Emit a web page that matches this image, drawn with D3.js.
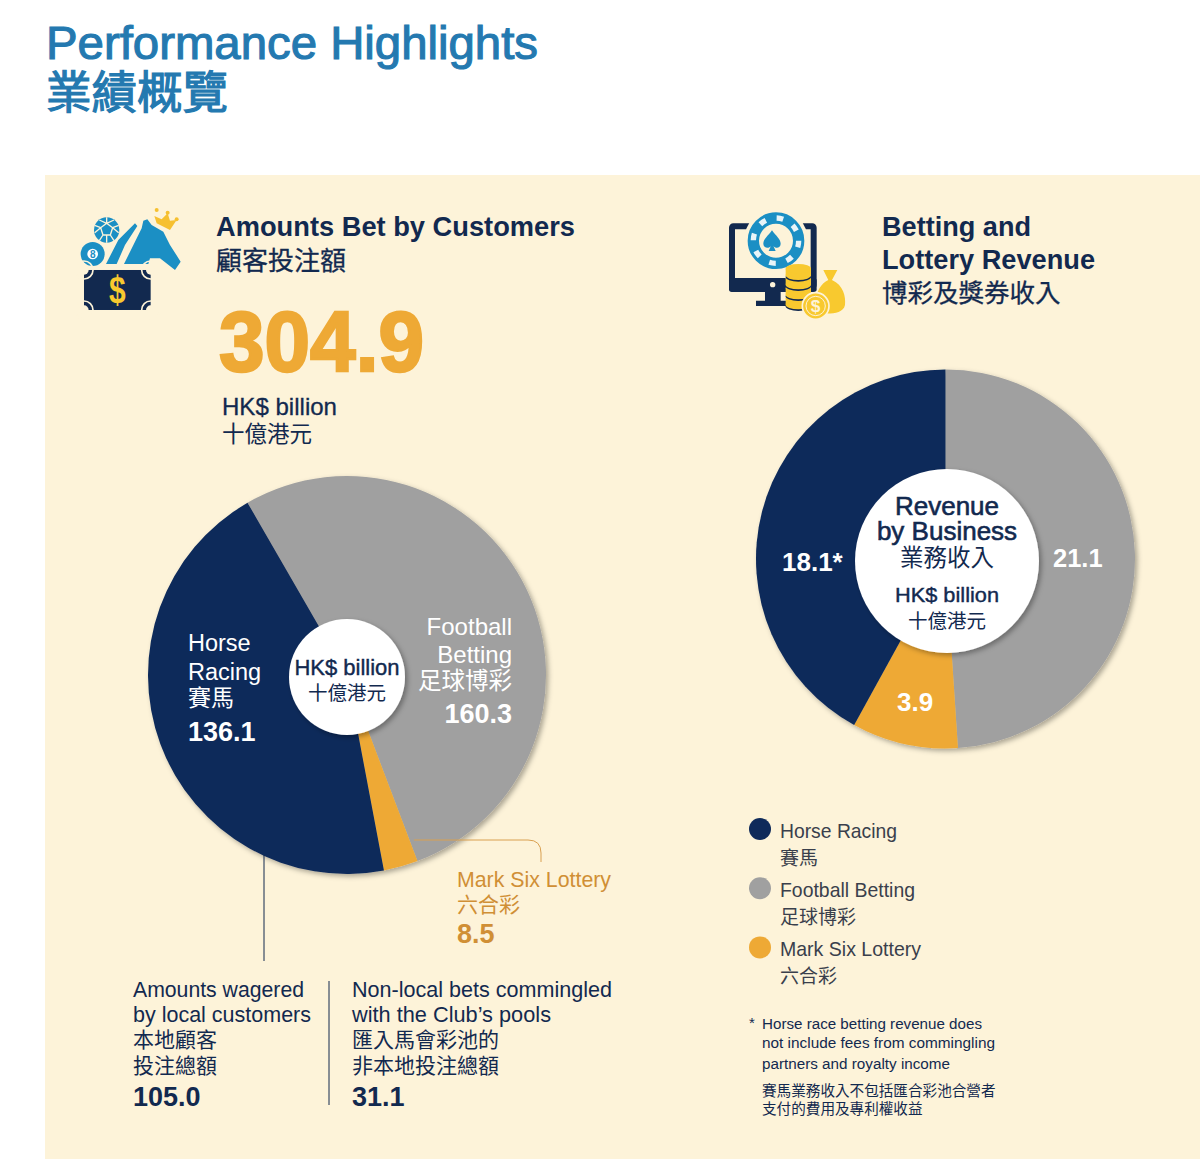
<!DOCTYPE html>
<html>
<head>
<meta charset="utf-8">
<script src="https://cdn.jsdelivr.net/npm/d3@7"></script>
<style>
html, body { margin: 0; padding: 0; background: #fff; }
svg { display: block; }
text { font-family: "Liberation Sans", "Noto Sans CJK TC", sans-serif; }
.zh { font-family: "Noto Sans CJK TC", sans-serif; }
</style>
</head>
<body>
<svg id="chart" width="1200" height="1159"></svg>
<script>
// chart values
var categories = ["Horse Racing", "Football Betting", "Mark Six Lottery"];
var categoriesZh = ["賽馬", "足球博彩", "六合彩"];
var betValues = [136.1, 160.3, 8.5];
var revenueValues = [18.1, 21.1, 3.9];
var betTotal = 304.9;
var localBets = 105.0;
var nonLocalBets = 31.1;
var sliceOrder = [1, 2, 0];
var sliceColors = ["#0f2a5a", "#a0a0a0", "#eea935"];

var navy = "#12294f", orange = "#eea935", labelOrange = "#d08f35", blue = "#1b8fc4", yellow = "#f8c92f", cream = "#fdf3d9";

var svg = d3.select("#chart");
var color = d3.scaleOrdinal(d3.range(categories.length), sliceColors);

var defs = svg.append("defs");
var shadow = defs.append("filter").attr("id", "shadow")
  .attr("x", "-10%").attr("y", "-10%").attr("width", "125%").attr("height", "125%");
shadow.append("feDropShadow").attr("dx", 2.5).attr("dy", 2.5).attr("stdDeviation", 2.5)
  .attr("flood-color", "#000").attr("flood-opacity", 0.32);

svg.append("rect").attr("x", 45).attr("y", 175).attr("width", 1155).attr("height", 984).attr("fill", cream);

function label(x, y, str, size, fill, opts) {
  opts = opts || {};
  var zh = /[\u4e00-\u9fff]/.test(str);
  var t = svg.append("text").attr("x", x).attr("y", y).text(str)
    .attr("font-size", size).attr("fill", fill)
    .attr("text-anchor", opts.anchor || "start")
    .attr("font-weight", opts.bold ? 700 : 400);
  if (zh) t.attr("class", "zh");
  if (opts.width) t.attr("textLength", opts.width).attr("lengthAdjust", "spacingAndGlyphs");
  if (opts.stroke) t.attr("stroke", fill).attr("stroke-width", opts.stroke);
  return t;
}

function drawPie(cx, cy, r, values, start) {
  var pie = d3.pie().sort(null).value(function(i) { return values[i]; })
    .startAngle(start).endAngle(start + 2 * Math.PI);
  var arc = d3.arc().innerRadius(0).outerRadius(r);
  svg.append("g").attr("transform", "translate(" + cx + "," + cy + ")")
    .attr("filter", "url(#shadow)")
    .selectAll("path").data(pie(sliceOrder)).enter().append("path")
    .attr("d", arc)
    .attr("fill", function(d) { return color(d.data); });
}

function hole(cx, cy, r) {
  svg.append("circle").attr("cx", cx).attr("cy", cy).attr("r", r).attr("fill", "#fff").attr("filter", "url(#shadow)");
}

drawPie(347, 675, 199, betValues, -30 * Math.PI / 180);
hole(347, 677, 58);
drawPie(945.5, 559, 189.5, revenueValues, 0);
hole(947, 561, 92);

// heading
label(46, 59, "Performance Highlights", 46, "#2479b0", { stroke: 1.1, width: 492 });
label(46, 109, "業績概覽", 45.5, "#2479b0", { stroke: 1.2 });

// left column
label(216, 236, "Amounts Bet by Customers", 27, navy, { bold: true, width: 359 });
label(216, 270, "顧客投注額", 26, navy, { stroke: 0.3 });
label(219, 371, betTotal.toFixed(1), 86, orange, { bold: true, width: 205, stroke: 2.5 });
label(222, 415, "HK$ billion", 24, navy, { stroke: 0.3, width: 115 });
label(222, 442, "十億港元", 22.5, navy);

label(188, 651, "Horse", 23.5, "#fff");
label(188, 680, "Racing", 23.5, "#fff");
label(188, 706, categoriesZh[0], 23, "#fff");
label(188, 741, betValues[0].toFixed(1), 27, "#fff", { bold: true });

label(512, 635, "Football", 24, "#fff", { anchor: "end" });
label(512, 663, "Betting", 24, "#fff", { anchor: "end" });
label(512, 689, categoriesZh[1], 23.5, "#fff", { anchor: "end" });
label(512, 723, betValues[1].toFixed(1), 27, "#fff", { anchor: "end", bold: true });

label(347, 675, "HK$ billion", 22, navy, { anchor: "middle", stroke: 0.4 });
label(347, 700, "十億港元", 19.5, navy, { anchor: "middle" });

svg.append("path").attr("d", "M414,840H528Q541,840 541,853V862").attr("fill", "none").attr("stroke", "#d9a050").attr("stroke-width", 1);
label(457, 887, categories[2], 22, labelOrange, { width: 154 });
label(457, 912, categoriesZh[2], 21, labelOrange);
label(457, 943, betValues[2].toFixed(1), 27, labelOrange, { bold: true });

svg.append("line").attr("x1", 264).attr("x2", 264).attr("y1", 855).attr("y2", 961).attr("stroke", navy);
svg.append("line").attr("x1", 329).attr("x2", 329).attr("y1", 981).attr("y2", 1105).attr("stroke", navy);

label(133, 997, "Amounts wagered", 22.5, navy, { width: 171 });
label(133, 1022, "by local customers", 22.5, navy, { width: 178 });
label(133, 1047, "本地顧客", 21, navy);
label(133, 1073, "投注總額", 21, navy);
label(133, 1106, localBets.toFixed(1), 27, navy, { bold: true });

label(352, 997, "Non-local bets commingled", 22.5, navy, { width: 260 });
label(352, 1022, "with the Club’s pools", 22.5, navy, { width: 199 });
label(352, 1047, "匯入馬會彩池的", 21, navy);
label(352, 1073, "非本地投注總額", 21, navy);
label(352, 1106, nonLocalBets.toFixed(1), 27, navy, { bold: true });

// right column
label(882, 236, "Betting and", 27, navy, { bold: true, width: 149 });
label(882, 269, "Lottery Revenue", 27, navy, { bold: true, width: 213 });
label(882, 302, "博彩及獎券收入", 25.5, navy, { stroke: 0.3 });

label(947, 515, "Revenue", 26, navy, { anchor: "middle", stroke: 0.6 });
label(947, 540, "by Business", 26, navy, { anchor: "middle", stroke: 0.6 });
label(947, 566, "業務收入", 23.5, navy, { anchor: "middle" });
label(947, 602, "HK$ billion", 21, navy, { anchor: "middle", stroke: 0.4, width: 104 });
label(947, 628, "十億港元", 19.5, navy, { anchor: "middle" });

label(782, 571, revenueValues[0].toFixed(1) + "*", 26, "#fff", { bold: true });
label(1053, 567, revenueValues[1].toFixed(1), 25.5, "#fff", { bold: true });
label(897, 711, revenueValues[2].toFixed(1), 26, "#fff", { bold: true });

// legend
var legendWidths = [117, 135, 141];
categories.forEach(function(c, i) {
  var y = 829 + i * 59.2;
  svg.append("circle").attr("cx", 760).attr("cy", y).attr("r", 11).attr("fill", color(i));
  label(780, y + 9, c, 21, "#3a3f4c", { width: legendWidths[i] });
  label(780, y + 36, categoriesZh[i], 19, "#3a3f4c");
});

// footnote
label(749, 1028, "*", 15, navy);
label(762, 1029, "Horse race betting revenue does", 15.2, navy, { width: 220 });
label(762, 1048, "not include fees from commingling", 15.2, navy, { width: 233 });
label(762, 1069, "partners and royalty income", 15.2, navy, { width: 188 });
label(762, 1096, "賽馬業務收入不包括匯合彩池合營者", 14.6, navy);
label(762, 1114, "支付的費用及專利權收益", 14.6, navy);

// left icon, drawn in zoomed coordinates
var ic1 = svg.append("g").attr("transform", "translate(60,190) scale(0.3333)");
ic1.append("circle").attr("cx", 140).attr("cy", 120).attr("r", 38).attr("fill", blue);
ic1.append("path").attr("d", "M140,82V100M140,100L122,113L129,135H151L158,113ZM122,113L104,106M158,113L176,106M129,135L118,152M151,135L162,152M118,90L140,100M162,90L140,100M104,128L122,113M176,128L158,113M140,158V135")
  .attr("fill", "none").attr("stroke", cream).attr("stroke-width", 4);
ic1.append("circle").attr("cx", 98).attr("cy", 192).attr("r", 36).attr("fill", blue);
ic1.append("circle").attr("cx", 98).attr("cy", 192).attr("r", 16).attr("fill", "#fff");
ic1.append("text").attr("x", 98).attr("y", 203).attr("text-anchor", "middle").attr("font-size", 30).attr("font-weight", 700).attr("fill", blue).text("8");
ic1.append("path").attr("fill", blue).attr("d", "M192,222L245,115L250,92L262,88L275,105L310,125L330,165L362,215L345,240L300,205L270,205L265,222Z");
ic1.append("path").attr("fill", blue).attr("d", "M138,222L175,150L225,100L232,108L195,165L170,222Z");
ic1.append("path").attr("fill", "#f6c030").attr("d", "M283,78L305,88L323,70L330,92L350,90L330,120L290,100Z");
[[290, 60], [323, 68], [350, 88]].forEach(function(p) {
  ic1.append("circle").attr("cx", p[0]).attr("cy", p[1]).attr("r", 6).attr("fill", "#f6c030");
});
ic1.append("rect").attr("x", 72).attr("y", 240).attr("width", 200).attr("height", 120).attr("fill", "#12294f");
[[72, 240], [272, 240], [72, 360], [272, 360]].forEach(function(p) {
  ic1.append("circle").attr("cx", p[0]).attr("cy", p[1]).attr("r", 14).attr("fill", cream);
  ic1.append("circle").attr("cx", p[0]).attr("cy", p[1]).attr("r", 27).attr("fill", "none").attr("stroke", cream).attr("stroke-width", 5);
});
ic1.append("text").attr("x", 172).attr("y", 338).attr("text-anchor", "middle").attr("font-size", 118).attr("font-weight", 700).attr("fill", yellow).attr("textLength", 50).attr("lengthAdjust", "spacingAndGlyphs").text("$");

// right icon
var ic2 = svg.append("g").attr("transform", "translate(710,200) scale(0.3333)");
ic2.append("rect").attr("x", 66).attr("y", 79).attr("width", 245).attr("height", 180).attr("rx", 4).attr("fill", "none").attr("stroke", "#12294f").attr("stroke-width", 18);
ic2.append("rect").attr("x", 57).attr("y", 234).attr("width", 263).attr("height", 42).attr("rx", 8).attr("fill", "#12294f");
ic2.append("circle").attr("cx", 188).attr("cy", 254).attr("r", 8).attr("fill", cream);
ic2.append("path").attr("fill", "#12294f").attr("d", "M165,276H212V302H240V318H138V302H165Z");
ic2.append("circle").attr("cx", 198).attr("cy", 122).attr("r", 96).attr("fill", cream);
ic2.append("circle").attr("cx", 198).attr("cy", 122).attr("r", 68).attr("fill", "none").attr("stroke", blue).attr("stroke-width", 34);
ic2.append("circle").attr("cx", 198).attr("cy", 122).attr("r", 68).attr("fill", "none").attr("stroke", "#e8f4f8").attr("stroke-width", 16).attr("stroke-dasharray", "20 33.4");
ic2.append("circle").attr("cx", 198).attr("cy", 122).attr("r", 42).attr("fill", cream);
ic2.append("path").attr("fill", blue).attr("d", "M186,92C175,108 160,118 160,132C160,146 178,148 183,138L176,154H197L190,138C196,148 212,146 212,132C212,118 197,108 186,92Z").attr("transform", "translate(0,-1)");
ic2.append("path").attr("fill", yellow).attr("d", "M340,210H382L366,240C400,255 408,290 405,315C400,342 360,342 335,340C310,335 310,260 355,240Z");
[310, 280, 250, 222].forEach(function(y) {
  ic2.append("ellipse").attr("cx", 265).attr("cy", y + 9).attr("rx", 38).attr("ry", 14).attr("fill", "#12294f");
  ic2.append("rect").attr("x", 227).attr("y", y - 16).attr("width", 76).attr("height", 20).attr("fill", yellow);
  ic2.append("ellipse").attr("cx", 265).attr("cy", y + 4).attr("rx", 38).attr("ry", 14).attr("fill", yellow);
  ic2.append("ellipse").attr("cx", 265).attr("cy", y - 16).attr("rx", 38).attr("ry", 14).attr("fill", yellow);
});
ic2.append("circle").attr("cx", 317).attr("cy", 318).attr("r", 40).attr("fill", yellow).attr("stroke", cream).attr("stroke-width", 5);
ic2.append("circle").attr("cx", 317).attr("cy", 318).attr("r", 29).attr("fill", "none").attr("stroke", cream).attr("stroke-width", 3);
ic2.append("text").attr("x", 317).attr("y", 337).attr("text-anchor", "middle").attr("font-size", 52).attr("font-weight", 700).attr("fill", cream).text("$");
</script>
</body>
</html>
